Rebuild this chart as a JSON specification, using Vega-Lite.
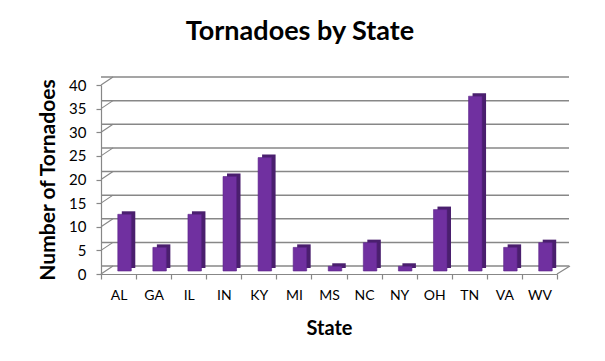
{
  "$schema": "https://vega.github.io/schema/vega-lite/v6.json",
  "autosize": "none",
  "width": 456,
  "height": 189,
  "padding": {"left": 101, "top": 85, "right": 48, "bottom": 87},
  "background": "white",
  "config": {
    "view": {"stroke": null},
    "font": "Lato",
    "axis": {"labelFont": "Lato", "titleFont": "Lato", "labelOverlap": false},
    "axisY": {"labelPadding": 10, "tickSize": 5, "labelFontSize": 15, "titlePadding": 10}
  },
  "title": {
    "text": "Tornadoes by State",
    "font": "Lato",
    "fontSize": 27,
    "fontWeight": "bold",
    "color": "black",
    "anchor": "middle",
    "dx": -29,
    "offset": 30
  },
  "datasets": {
    "states": [
      {"State": "AL", "Tornadoes": 12},
      {"State": "GA", "Tornadoes": 5},
      {"State": "IL", "Tornadoes": 12},
      {"State": "IN", "Tornadoes": 20},
      {"State": "KY", "Tornadoes": 24},
      {"State": "MI", "Tornadoes": 5},
      {"State": "MS", "Tornadoes": 1},
      {"State": "NC", "Tornadoes": 6},
      {"State": "NY", "Tornadoes": 1},
      {"State": "OH", "Tornadoes": 13},
      {"State": "TN", "Tornadoes": 37},
      {"State": "VA", "Tornadoes": 5},
      {"State": "WV", "Tornadoes": 6}
    ],
    "grid": [
      {"g": 0}, {"g": 5}, {"g": 10}, {"g": 15}, {"g": 20},
      {"g": 25}, {"g": 30}, {"g": 35}, {"g": 40}
    ]
  },
  "layer": [
    {
      "data": {"name": "grid"},
      "mark": {"type": "rule", "color": "#878787", "strokeWidth": 1.5, "xOffset": 12, "yOffset": -8},
      "encoding": {
        "y": {
          "field": "g",
          "type": "quantitative",
          "scale": {"domain": [0, 40], "nice": false},
          "axis": {"title": "Number of Tornadoes", "values": [0, 5, 10, 15, 20, 25, 30, 35, 40], "labelOverlap": false, "titleFontSize": 21, "titleFontWeight": "bold", "titleColor": "black", "titlePadding": 10, "labelFontSize": 15, "labelColor": "black", "labelPadding": 10, "grid": false, "ticks": true, "tickSize": 5, "tickColor": "#878787", "domainColor": "#878787", "domainWidth": 1.2, "tickWidth": 1.2}
        }
      }
    },
    {
      "data": {"name": "grid"},
      "mark": {"type": "rule", "color": "#878787", "strokeWidth": 1.2, "y2Offset": -8},
      "encoding": {
        "x": {"value": 0},
        "x2": {"value": 12},
        "y": {"field": "g", "type": "quantitative", "axis": {"title": "Number of Tornadoes", "values": [0, 5, 10, 15, 20, 25, 30, 35, 40], "labelOverlap": false, "titleFontSize": 21, "titleFontWeight": "bold", "titleColor": "black", "titlePadding": 10, "labelFontSize": 15, "labelColor": "black", "labelPadding": 10, "grid": false, "ticks": true, "tickSize": 5, "tickColor": "#878787", "domainColor": "#878787", "domainWidth": 1.2, "tickWidth": 1.2}},
        "y2": {"field": "g"}
      }
    },
    {
      "data": {"values": [{"g": 0}]},
      "mark": {"type": "rule", "color": "#878787", "strokeWidth": 1.2, "y2Offset": -8},
      "encoding": {
        "x": {"value": 456},
        "x2": {"value": 469},
        "y": {"field": "g", "type": "quantitative", "axis": {"title": "Number of Tornadoes", "values": [0, 5, 10, 15, 20, 25, 30, 35, 40], "labelOverlap": false, "titleFontSize": 21, "titleFontWeight": "bold", "titleColor": "black", "titlePadding": 10, "labelFontSize": 15, "labelColor": "black", "labelPadding": 10, "grid": false, "ticks": true, "tickSize": 5, "tickColor": "#878787", "domainColor": "#878787", "domainWidth": 1.2, "tickWidth": 1.2}},
        "y2": {"field": "g"}
      }
    },
    {
      "data": {"name": "states"},
      "mark": {"type": "bar", "color": "#4a1f6e", "width": 13.5, "xOffset": 10, "yOffset": -6},
      "encoding": {
        "x": {
          "field": "State",
          "type": "nominal",
          "sort": null,
          "scale": {"paddingInner": 0, "paddingOuter": 0},
          "axis": {
            "title": "State",
            "titleFontSize": 20,
            "titleFontWeight": "bold",
            "titleColor": "black",
            "titlePadding": 16,
            "labelFontSize": 14,
            "labelColor": "black",
            "labelAngle": 0,
            "labelPadding": 9,
            "labelOverlap": false,
            "tickBand": "extent",
            "tickSize": 5,
            "tickColor": "#878787",
            "domainColor": "#878787",
            "domainWidth": 1.2,
            "tickWidth": 1.2
          }
        },
        "y": {"field": "Tornadoes", "type": "quantitative", "axis": {"title": "Number of Tornadoes", "values": [0, 5, 10, 15, 20, 25, 30, 35, 40], "labelOverlap": false, "titleFontSize": 21, "titleFontWeight": "bold", "titleColor": "black", "titlePadding": 10, "labelFontSize": 15, "labelColor": "black", "labelPadding": 10, "grid": false, "ticks": true, "tickSize": 5, "tickColor": "#878787", "domainColor": "#878787", "domainWidth": 1.2, "tickWidth": 1.2}}
      }
    },
    {
      "data": {"name": "states"},
      "mark": {"type": "bar", "color": "#7030a0", "stroke": "#5a2388", "strokeWidth": 0.6, "width": 13.5, "xOffset": 6, "yOffset": -3},
      "encoding": {
        "x": {"field": "State", "type": "nominal", "sort": null},
        "y": {"field": "Tornadoes", "type": "quantitative", "axis": {"title": "Number of Tornadoes", "values": [0, 5, 10, 15, 20, 25, 30, 35, 40], "labelOverlap": false, "titleFontSize": 21, "titleFontWeight": "bold", "titleColor": "black", "titlePadding": 10, "labelFontSize": 15, "labelColor": "black", "labelPadding": 10, "grid": false, "ticks": true, "tickSize": 5, "tickColor": "#878787", "domainColor": "#878787", "domainWidth": 1.2, "tickWidth": 1.2}}
      }
    }
  ]
}
